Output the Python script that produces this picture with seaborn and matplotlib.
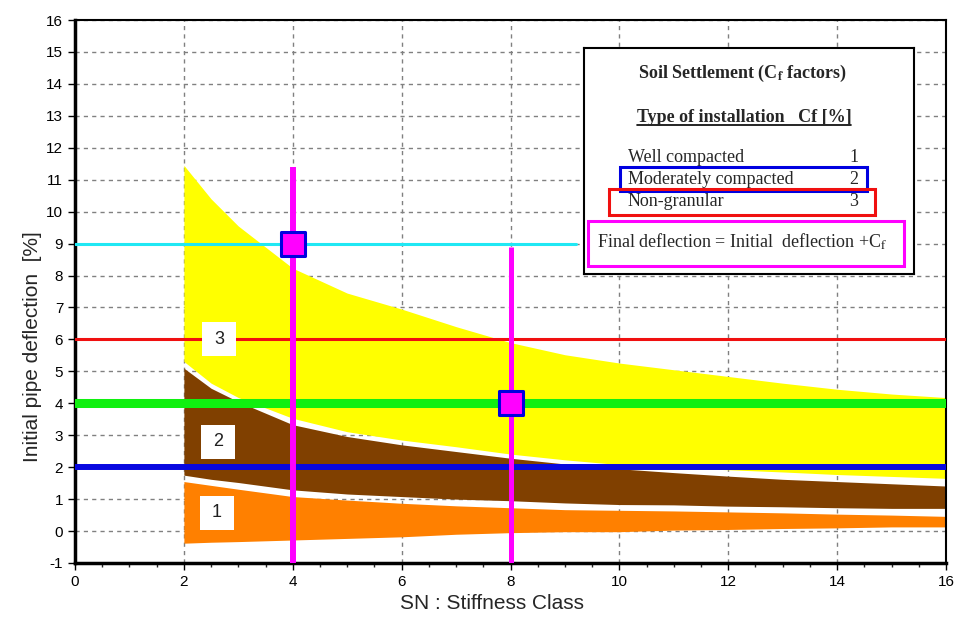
import matplotlib
matplotlib.use("Agg")
import matplotlib.pyplot as plt
from matplotlib.patches import Rectangle
from matplotlib.ticker import MultipleLocator
import pandas as pd
import seaborn as sns

# stiffness classes where the zone boundaries were read
sn = [2, 2.5, 3, 4, 5, 6, 7, 8, 9, 10, 11, 12, 13, 14, 15, 16]

# zone 3 (non-granular) - yellow
zone3_top = [11.45, 10.4, 9.55, 8.23, 7.45, 6.95, 6.4, 5.9, 5.52, 5.26, 5.05, 4.84, 4.63, 4.44, 4.29, 4.18]
zone3_bot = [5.31, 4.63, 4.18, 3.53, 3.11, 2.85, 2.64, 2.41, 2.23, 2.08, 1.98, 1.92, 1.85, 1.77, 1.71, 1.65]
# zone 2 (moderately compacted) - brown
zone2_top = [5.1, 4.47, 4.05, 3.33, 2.96, 2.70, 2.49, 2.28, 2.1, 1.95, 1.83, 1.72, 1.62, 1.55, 1.48, 1.41]
zone2_bot = [1.75, 1.62, 1.52, 1.29, 1.16, 1.08, 1.0, 0.95, 0.88, 0.83, 0.82, 0.78, 0.76, 0.73, 0.71, 0.71]
# zone 1 (well compacted) - orange
zone1_top = [1.55, 1.43, 1.31, 1.08, 0.97, 0.87, 0.79, 0.73, 0.67, 0.65, 0.63, 0.6, 0.57, 0.53, 0.5, 0.46]
zone1_bot = [-0.38, -0.35, -0.33, -0.28, -0.23, -0.18, -0.1, -0.05, -0.02, -0.02, 0.03, 0.05, 0.08, 0.1, 0.13, 0.13]

# horizontal deflection limits
ref_levels = [9, 6, 4, 2]
ref_ends = [9.2, 16, 16, 16]
ref_colors = ["#20e8f4", "#f01010", "#10f010", "#0808e0"]
ref_widths = [2.2, 2.2, 6.5, 4.3]

# selected pipes
probe_sn = [4, 8]
probe_top = [11.4, 8.9]
probe_defl = [9, 4]

zone_labels = ["1", "2", "3"]
zone_label_x = [2.6, 2.62, 2.65]
zone_label_y = [0.58, 2.8, 6.0]

sns.set_style("white")
plt.rcParams["font.family"] = ["Liberation Sans", "DejaVu Sans"]
plt.rcParams["mathtext.fontset"] = "stix"
plt.rcParams["axes.unicode_minus"] = False

fig = plt.figure(figsize=(9.6, 6.26), dpi=100)
ax = fig.add_axes([75 / 960, 1 - 563 / 626, 871 / 960, 543 / 626])

ax.fill_between(sn, zone3_bot, zone3_top, color="#ffff00", lw=0, zorder=1)
ax.fill_between(sn, zone2_bot, zone2_top, color="#804000", lw=0, zorder=1)
ax.fill_between(sn, zone1_bot, zone1_top, color="#ff8000", lw=0, zorder=1)

for lvl, end, col, w in zip(ref_levels, ref_ends, ref_colors, ref_widths):
    df = pd.DataFrame({"sn": [0, end], "defl": [lvl, lvl]})
    sns.lineplot(data=df, x="sn", y="defl", color=col, linewidth=w, ax=ax, zorder=3)

for x, top, w in zip(probe_sn, probe_top, [4.3, 3.6]):
    ax.plot([x, x], [-1, top], color="#ff00ff", linewidth=w, zorder=4, solid_capstyle="butt")

sns.scatterplot(x=probe_sn, y=probe_defl, marker="s", s=290, color="#ff00ff",
                edgecolor="#0000e0", linewidth=2.2, ax=ax, zorder=5)

sns.scatterplot(x=zone_label_x, y=zone_label_y, marker="s", s=590, color="white",
                linewidth=0, ax=ax, zorder=6)
for lab, x, y in zip(zone_labels, zone_label_x, zone_label_y):
    ax.text(x, y, lab, ha="center", va="center", fontsize=13, color="#202020", zorder=7)

ax.set_xlim(0, 16)
ax.set_ylim(-1, 16)
ax.set_xticks(range(0, 17, 2))
ax.set_yticks(range(-1, 17))
ax.xaxis.set_minor_locator(MultipleLocator(0.5))
ax.grid(True, which="major", color="#808080", linestyle=(0, (3, 3)), linewidth=1)
ax.set_axisbelow(True)
ax.tick_params(axis="both", which="major", direction="out", length=5, width=1,
               labelsize=11, colors="black", bottom=True, left=True)
ax.tick_params(axis="x", which="minor", direction="out", length=3, width=1, bottom=True)

for s in ["left", "bottom"]:
    ax.spines[s].set_color("black")
    ax.spines[s].set_linewidth(2.5)
for s in ["top", "right"]:
    ax.spines[s].set_color("black")
    ax.spines[s].set_linewidth(1.5)
    ax.spines[s].set_linestyle((0, (4, 1)))

ax.set_xlabel("SN : Stiffness Class", fontsize=15)
ax.set_ylabel("Initial pipe deflection  [%]", fontsize=15)
ax.xaxis.set_label_coords(0.479, -0.058)
ax.yaxis.set_label_coords(-0.038, 0.398)

# legend panel in pixel units
lax = fig.add_axes([584 / 960, 1 - 274 / 626, 330 / 960, 226 / 626], zorder=10)
lax.set_xlim(0, 330)
lax.set_ylim(226, 0)
lax.set_xticks([])
lax.set_yticks([])
lax.set_facecolor("white")
for s in lax.spines.values():
    s.set_color("black")
    s.set_linewidth(1.5)

serif = ["Liberation Serif", "DejaVu Serif"]
lax.text(158, 25, r"Soil Settlement (C$_\mathbf{f}$ factors)", ha="center", va="center",
         fontsize=13, fontweight="bold", family=serif)
header = lax.text(160, 69, "Type of installation   Cf [%]", ha="center", va="center",
                  fontsize=13, fontweight="bold", family=serif)
rows = ["Well compacted", "Moderately compacted", "Non-granular"]
row_cf = ["1", "2", "3"]
row_y = [110, 131, 154]
for name, cf, y in zip(rows, row_cf, row_y):
    lax.text(44, y, name, ha="left", va="center", fontsize=13, family=serif)
    lax.text(270, y, cf, ha="center", va="center", fontsize=13, family=serif)

lax.add_patch(Rectangle((36, 119), 247, 24, fill=False, edgecolor="#0000e0", linewidth=2.2))
lax.add_patch(Rectangle((25, 141), 266, 26, fill=False, edgecolor="#f01010", linewidth=2.2))
lax.add_patch(Rectangle((4, 173), 316, 45, fill=False, edgecolor="#ff00ff", linewidth=2.2))
lax.text(13, 194, r"Final deflection = Initial  deflection +C$_\mathrm{f}$", ha="left",
         va="center", fontsize=13, family=serif)

fig.canvas.draw()
bb = header.get_window_extent(fig.canvas.get_renderer())
inv = lax.transData.inverted()
(ux0, uy), (ux1, _) = inv.transform([(bb.x0, bb.y0 + 1), (bb.x1, bb.y0 + 1)])
lax.plot([ux0, ux1], [uy, uy], color="black", linewidth=1.2)

fig.savefig("out.png", dpi=100)
